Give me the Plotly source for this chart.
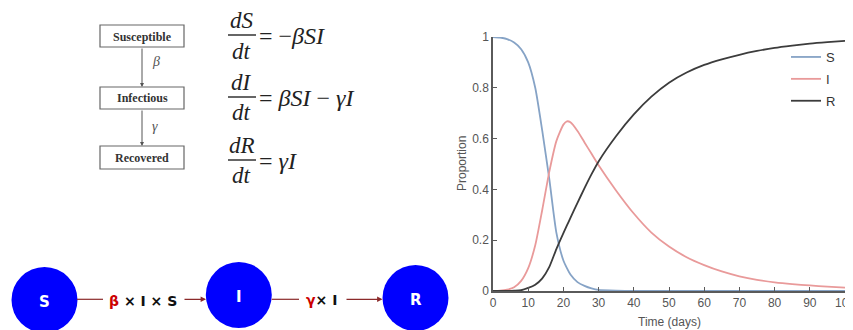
import plotly.graph_objects as go

W, H = 853, 330
OFF = 8  # page body margin offset of the rendered figure

# ---- data ----
t = [0, 2, 4, 6, 8, 10, 12, 14, 16, 18, 20, 21, 22, 24, 26, 28, 30, 35, 40, 45,
     50, 55, 60, 65, 70, 75, 80, 85, 90, 95, 100]
S = [1.0, 0.998, 0.992, 0.978, 0.952, 0.9, 0.8, 0.63, 0.44, 0.23, 0.12, 0.09, 0.065, 0.035,
     0.02, 0.01, 0.004, 0.001, 0.0, 0.0, 0.0, 0.0, 0.0, 0.0, 0.0, 0.0, 0.0, 0.0, 0.0, 0.0, 0.0]
I = [0.0, 0.001, 0.005, 0.015, 0.04, 0.09, 0.18, 0.32, 0.47, 0.59, 0.655, 0.668, 0.664, 0.63,
     0.585, 0.54, 0.495, 0.395, 0.305, 0.23, 0.175, 0.133, 0.102, 0.077, 0.058, 0.044, 0.034,
     0.027, 0.022, 0.017, 0.013]
R = [0.0, 0.0, 0.0, 0.001, 0.003, 0.012, 0.025, 0.05, 0.095, 0.165, 0.228, 0.258, 0.288, 0.347,
     0.405, 0.46, 0.51, 0.61, 0.695, 0.765, 0.82, 0.86, 0.89, 0.912, 0.93, 0.945, 0.957,
     0.966, 0.974, 0.98, 0.985]
x_ticks = [0, 10, 20, 30, 40, 50, 60, 70, 80, 90, 100]
y_ticks = [0, 0.2, 0.4, 0.6, 0.8, 1]
y_tick_text = ["0", "0.2", "0.4", "0.6", "0.8", "1"]
series_names = ["S", "I", "R"]
series_colors = ["#86a3c6", "#e99a9a", "#3c3c3c"]

box_labels = ["Susceptible", "Infectious", "Recovered"]
node_labels = ["S", "I", "R"]


def X(x):
    return (x - OFF) / W


def Y(y):
    return 1 - (y - OFF) / H


fig = go.Figure()
for name, vals, col in zip(series_names, [S, I, R], series_colors):
    fig.add_trace(go.Scatter(x=t, y=vals, mode="lines", name=name, legendgroup=name,
                             line=dict(color=col, width=1.8, shape="spline", smoothing=0.6)))

shapes = []
annotations = []

# ---- flow chart boxes ----
box_y = [(25, 47), (87, 109), (146, 169)]
for lab, (y0, y1) in zip(box_labels, box_y):
    shapes.append(dict(type="rect", xref="paper", yref="paper", x0=X(100), x1=X(184),
                       y0=Y(y1), y1=Y(y0), line=dict(color="#666", width=1.2)))
    annotations.append(dict(xref="paper", yref="paper", x=X(142), y=Y((y0 + y1) / 2 + 0.5),
                            text="<b>" + lab + "</b>", showarrow=False,
                            font=dict(family="Liberation Serif", size=12, color="#333"),
                            xanchor="center", yanchor="middle"))
# arrows between boxes
for (ys, ye) in [(47, 87), (109, 146)]:
    annotations.append(dict(xref="paper", yref="paper", x=X(142), y=Y(ye), ax=0, ay=-(ye - ys),
                            text="", showarrow=True, arrowhead=2, arrowsize=0.8,
                            arrowwidth=1, arrowcolor="#555", standoff=0))
for txt, yy in [("β", 62), ("γ", 126)]:
    annotations.append(dict(xref="paper", yref="paper", x=X(150), y=Y(yy), text="<i>" + txt + "</i>",
                            showarrow=False, font=dict(family="Liberation Serif", size=14, color="#555"),
                            xanchor="left", yanchor="middle"))

# ---- equations ----
eqs = [("dS", "= −<i>βSI</i>", 35),
       ("dI", "= <i>βSI</i> − <i>γI</i>", 97),
       ("dR", "= <i>γI</i>", 160)]
efont = dict(family="Liberation Serif", size=23, color="#222")
rfont = dict(family="Liberation Serif", size=24, color="#222")
for num, rhs, by in eqs:
    shapes.append(dict(type="line", xref="paper", yref="paper", x0=X(228), x1=X(256),
                       y0=Y(by), y1=Y(by), line=dict(color="#333", width=1.5)))
    annotations.append(dict(xref="paper", yref="paper", x=X(242), y=Y(by - 15), text="<i>" + num + "</i>",
                            showarrow=False, font=efont, xanchor="center", yanchor="middle"))
    annotations.append(dict(xref="paper", yref="paper", x=X(242), y=Y(by + 16), text="<i>dt</i>",
                            showarrow=False, font=efont, xanchor="center", yanchor="middle"))
    annotations.append(dict(xref="paper", yref="paper", x=X(257), y=Y(by + 0.5), text=rhs,
                            showarrow=False, font=rfont, xanchor="left", yanchor="middle"))

# ---- bottom network ----
nodes = [(44.5, 300), (238.8, 295), (415.5, 298)]
r = 33
for lab, (cx, cy) in zip(node_labels, nodes):
    shapes.append(dict(type="circle", xref="paper", yref="paper", x0=X(cx - r), x1=X(cx + r),
                       y0=Y(cy + r), y1=Y(cy - r), fillcolor="#0000ff", line=dict(color="#0000ff", width=0)))
    annotations.append(dict(xref="paper", yref="paper", x=X(cx), y=Y(cy + 1.5), text="<b>" + lab + "</b>",
                            showarrow=False, font=dict(family="DejaVu Sans", size=15, color="white"),
                            xanchor="center", yanchor="middle"))
link_col = "#8b2a2a"
ly = 299.3
for x0, x1 in [(77, 103), (271.7, 299)]:
    shapes.append(dict(type="line", xref="paper", yref="paper", x0=X(x0), x1=X(x1), y0=Y(ly), y1=Y(ly),
                       line=dict(color=link_col, width=1.2)))
for x0, x1 in [(183, 206), (345, 382.5)]:
    annotations.append(dict(xref="paper", yref="paper", x=X(x1), y=Y(ly), ax=-(x1 - x0), ay=0, text="",
                            showarrow=True, arrowhead=2, arrowsize=0.9, arrowwidth=1.2,
                            arrowcolor=link_col, standoff=0))
nfont = dict(family="DejaVu Sans", size=14, color="#111")
annotations.append(dict(xref="paper", yref="paper", x=X(143), y=Y(300.5),
                        text="<b><span style='color:#cc0000'>β</span> × I × S</b>", showarrow=False,
                        font=nfont, xanchor="center", yanchor="middle"))
annotations.append(dict(xref="paper", yref="paper", x=X(321.5), y=Y(300),
                        text="<b><span style='color:#cc0000'>γ</span>× I</b>", showarrow=False,
                        font=nfont, xanchor="center", yanchor="middle"))

# ---- axis titles ----
annotations.append(dict(xref="paper", yref="paper", x=X(462), y=Y(164), text="Proportion", textangle=-90,
                        showarrow=False, font=dict(family="Liberation Sans", size=12, color="#555"),
                        xanchor="center", yanchor="middle"))
annotations.append(dict(xref="paper", yref="paper", x=X(669), y=Y(322), text="Time (days)",
                        showarrow=False, font=dict(family="Liberation Sans", size=12, color="#555"),
                        xanchor="center", yanchor="middle"))

axis_common = dict(showline=True, linecolor="#5a5a5a", linewidth=1.5, ticks="inside", ticklen=4,
                   tickcolor="#5a5a5a", showgrid=False, zeroline=False, automargin=False,
                   tickfont=dict(family="Liberation Sans", size=12, color="#555"))
fig.update_layout(
    width=W, height=H, margin=dict(l=0, r=0, t=0, b=0, pad=0, autoexpand=False),
    paper_bgcolor="white", plot_bgcolor="white",
    xaxis=dict(domain=[X(493), X(845)], range=[0, 100], tickvals=x_ticks, **axis_common),
    yaxis=dict(domain=[Y(291), Y(37)], range=[0, 1], tickvals=y_ticks, ticktext=y_tick_text, **axis_common),
    shapes=shapes, annotations=annotations,
    legend=dict(x=X(786), y=Y(42), xanchor="left", yanchor="top", bgcolor="rgba(0,0,0,0)",
                tracegroupgap=2,
                font=dict(family="Liberation Sans", size=13, color="#333")),
    showlegend=True,
)
fig.write_html("out.html")
